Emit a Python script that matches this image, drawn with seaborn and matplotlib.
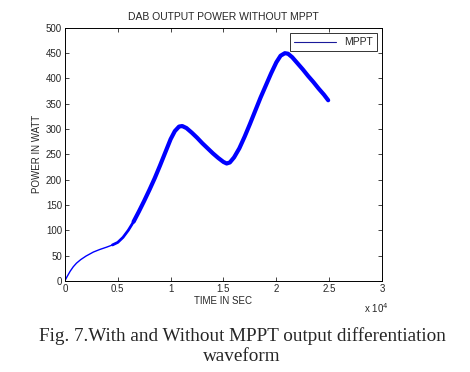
import matplotlib
matplotlib.use("Agg")
import matplotlib.pyplot as plt
import seaborn as sns
import pandas as pd
from matplotlib.ticker import FuncFormatter, MultipleLocator

# Data (time in seconds, power in watts)
time_s = [0, 200, 500, 800, 1100, 1500, 2000, 2700, 3300, 4000, 4500, 5000,
          5500, 6000, 6500, 7000, 7500, 8000, 8500, 9000, 9500, 10000, 10400,
          10800, 11100, 11500, 12000, 12500, 13000, 13500, 14000, 14500, 15000,
          15300, 15600, 16000, 16500, 17000, 17500, 18000, 18500, 19000, 19500,
          20000, 20400, 20800, 21100, 21500, 22000, 22500, 23000, 23500, 24000,
          24500, 24900]
power_w = [0, 8, 19, 28, 35, 42, 49, 57, 62, 67, 71, 76,
           86, 100, 117, 137, 158, 180, 203, 228, 254, 280, 296,
           305, 306, 302, 293, 283, 272, 262, 252, 243, 235,
           232, 234, 244, 262, 285, 310, 336, 362, 386, 410,
           432, 445, 450, 449, 442, 430, 418, 405, 393, 380,
           368, 357]
series_name = "MPPT"
title = "DAB OUTPUT POWER WITHOUT MPPT"
xlabel = "TIME IN SEC"
ylabel = "POWER IN WATT"
caption = "Fig. 7.With and Without MPPT output differentiation\nwaveform"

df = pd.DataFrame({"t": time_s, "p": power_w})
df_mid = df[(df["t"] >= 4500) & (df["t"] <= 7000)]
df_thick = df[df["t"] >= 6500]

sns.set_style("ticks")
plt.rcParams["font.family"] = ["Liberation Sans", "DejaVu Sans"]
plt.rcParams["xtick.direction"] = "in"
plt.rcParams["ytick.direction"] = "in"

fig = plt.figure(figsize=(4.7, 3.72), dpi=100)
ax = fig.add_axes([0.138, 0.245, 0.675, 0.68])

sns.lineplot(data=df, x="t", y="p", ax=ax, color="#0000ff", lw=1.0, label=series_name)
sns.lineplot(data=df_mid, x="t", y="p", ax=ax, color="#0000ff", lw=2.0, legend=False)
sns.lineplot(data=df_thick, x="t", y="p", ax=ax, color="#0000ff", lw=3.0, legend=False)

ax.set_xlim(0, 30000)
ax.set_ylim(0, 500)
ax.xaxis.set_major_locator(MultipleLocator(5000))
ax.yaxis.set_major_locator(MultipleLocator(50))
ax.xaxis.set_major_formatter(FuncFormatter(lambda v, pos: f"{v/1e4:g}"))
ax.tick_params(axis="both", labelsize=7, length=3, width=0.6, top=True, right=True, pad=2)
for s in ax.spines.values():
    s.set_linewidth(0.7)
    s.set_color("black")

ax.set_title(title, fontsize=7.5, pad=6)
ax.set_xlabel(xlabel, fontsize=7, labelpad=2)
ax.set_ylabel(ylabel, fontsize=7, labelpad=3)
fig.text(0.80, 0.172, r"x 10$^4$", fontsize=7, ha="center", va="center")

leg = ax.legend(loc="upper right", fontsize=7.5, frameon=True, fancybox=False,
                handlelength=4, borderpad=0.4, borderaxespad=0.5)
leg.get_frame().set_edgecolor("black")
leg.get_frame().set_linewidth(0.7)
for h in leg.get_lines():
    h.set_linewidth(0.8)
    h.set_color("#1a1a9a")

fig.text(0.515, 0.07, caption, ha="center", va="center", fontsize=13.8,
         family=["Liberation Serif", "DejaVu Serif"], linespacing=1.2)

fig.savefig("out.png", dpi=100)
